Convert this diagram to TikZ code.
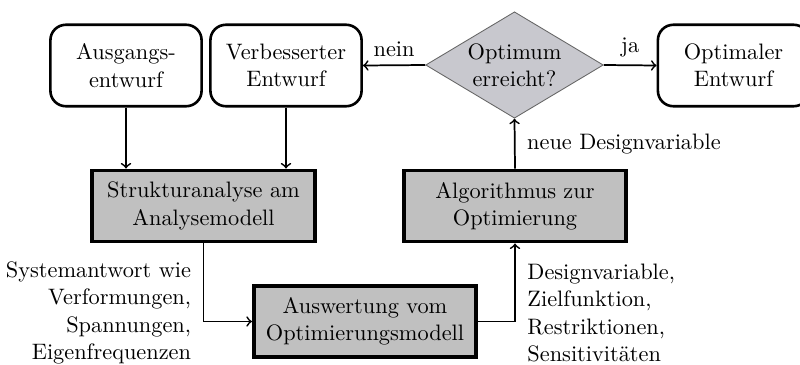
\documentclass[tikz,border=0pt]{standalone}
\usetikzlibrary{shapes.geometric}
\definecolor{boxgrau}{RGB}{192,192,192}
\definecolor{rautegrau}{RGB}{200,200,206}
\tikzset{
	every node/.style = {font=\fontsize{10.3}{12.6}\selectfont},
	entwurf/.style = {draw, very thick, rounded corners=2.5mm, align=center, minimum width=2.45cm, minimum height=1.32cm},
	schritt/.style = {draw, line width=1.8pt, fill=boxgrau, align=center, minimum width=3.6cm, minimum height=1.15cm},
	abfrage/.style = {diamond, draw=black!60, fill=rautegrau, align=center, aspect=1.67, inner sep=1pt, minimum width=2.87cm, minimum height=1.72cm},
	pfeil/.style = {->, thick}
}
\begin{document}
\begin{tikzpicture}[x=0.0162cm,y=-0.0162cm]
	\useasboundingbox (0,0) rectangle (800,364);
	\node [entwurf] (ausgang) at (126,65.5) {Ausgangs-\\entwurf};
	\node [entwurf] (verbessert) at (286,65.5) {Verbesserter\\Entwurf};
	\node [abfrage] (optimum) at (514.5,65) {Optimum\\erreicht?};
	\node [entwurf] (optimal) at (733.5,65.5) {Optimaler\\Entwurf};
	\node [schritt] (struktur) at (203.5,206) {Strukturanalyse am\\Analysemodell};
	\node [schritt] (algorithmus) at (515,206) {Algorithmus zur\\Optimierung};
	\node [schritt] (auswertung) at (365,321.5) {Auswertung vom\\Optimierungsmodell};
	\draw [pfeil] (ausgang) -- (ausgang |- struktur.north);
	\draw [pfeil] (verbessert) -- (verbessert |- struktur.north);
	\draw [pfeil] (struktur.south) |- (auswertung.west) node [pos=0.5, left, align=right, xshift=-2pt, yshift=4pt] {Systemantwort wie\\Verformungen,\\Spannungen,\\Eigenfrequenzen};
	\draw [pfeil] (auswertung.east) -| (algorithmus.south) node [pos=0.5, right, align=left, xshift=2pt, yshift=4pt] {Designvariable,\\Zielfunktion,\\Restriktionen,\\Sensitivit\"aten};
	\draw [pfeil] (algorithmus.north) -- (optimum.south) node [midway, right, xshift=2pt] {neue Designvariable};
	\draw [pfeil] (optimum.west) -- (verbessert.east) node [midway, above] {nein};
	\draw [pfeil] (optimum.east) -- (optimal.west) node [midway, above] {ja};
\end{tikzpicture}
\end{document}
